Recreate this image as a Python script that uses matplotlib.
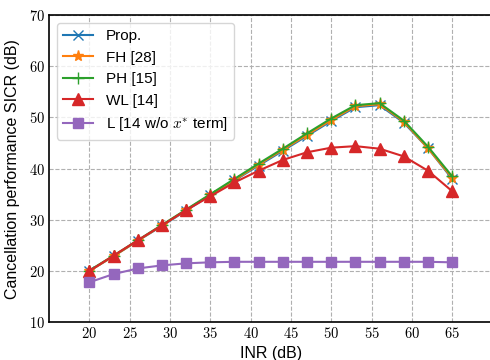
import matplotlib
matplotlib.use("Agg")
import matplotlib.pyplot as plt

plt.rcParams['mathtext.fontset'] = 'cm'
plt.rcParams['font.family'] = ['Liberation Sans', 'DejaVu Sans']

inr = [20, 23, 26, 29, 32, 35, 38, 41, 44, 47, 50, 53, 56, 59, 62, 65]
prop = [20.0, 22.9, 25.9, 28.8, 31.8, 34.8, 37.7, 40.6, 43.5, 46.4, 49.3, 52.0, 52.4, 49.0, 44.0, 38.0]
fh = [20.0, 22.9, 25.9, 28.9, 31.9, 34.9, 37.8, 40.8, 43.7, 46.6, 49.5, 52.2, 52.6, 49.2, 44.0, 38.2]
ph = [20.1, 23.0, 26.0, 29.0, 32.0, 35.0, 38.0, 41.0, 43.9, 46.9, 49.8, 52.4, 52.8, 49.4, 44.3, 38.5]
wl = [20.0, 23.0, 26.0, 28.9, 31.9, 34.6, 37.3, 39.6, 41.7, 43.2, 44.1, 44.4, 43.9, 42.4, 39.6, 35.6]
lx = [17.8, 19.4, 20.5, 21.1, 21.5, 21.7, 21.8, 21.8, 21.8, 21.8, 21.8, 21.8, 21.8, 21.8, 21.8, 21.7]

labels = ['Prop.', 'FH [28]', 'PH [15]', 'WL [14]', r'L [14 w/o $x^{*}$ term]']
xticks = [20, 25, 30, 35, 40, 45, 50, 55, 60, 65]
yticks = [10, 20, 30, 40, 50, 60, 70]

fig = plt.figure(figsize=(4.9, 3.6), dpi=100)
ax = fig.add_axes([0.1, 0.105, 0.905, 0.853])

ax.plot(inr, prop, color='#1f77b4', marker='x', markersize=7, lw=1.5, label=labels[0])
ax.plot(inr, fh, color='#ff7f0e', marker='*', markersize=8, lw=1.5, label=labels[1])
ax.plot(inr, ph, color='#2ca02c', marker='+', markersize=8, lw=1.5, label=labels[2])
ax.plot(inr, wl, color='#d62728', marker='^', markersize=8, lw=1.5, label=labels[3])
ax.plot(inr, lx, color='#9467bd', marker='s', markersize=7, lw=1.5, label=labels[4])

ax.set_xlim(15, 70)
ax.set_ylim(10, 70)
ax.set_xticks(xticks)
ax.set_xticklabels([f'${v}$' for v in xticks], fontsize=10.5)
ax.set_yticks(yticks)
ax.set_yticklabels([f'${v}$' for v in yticks], fontsize=10.5)
ax.tick_params(direction='out', length=0, pad=3)
ax.grid(True, linestyle='--', color='#b0b0b0', linewidth=0.8)
ax.set_xlabel('INR (dB)', fontsize=11.5, labelpad=3)
ax.set_ylabel('Cancellation performance SICR (dB)', fontsize=11.5, labelpad=6)
for s in ax.spines.values():
    s.set_linewidth(1.2)

ax.legend(loc='upper left', fontsize=11, framealpha=0.8, handlelength=2.0,
          borderaxespad=0.5, labelspacing=0.5)

fig.savefig('out.png', dpi=100)
